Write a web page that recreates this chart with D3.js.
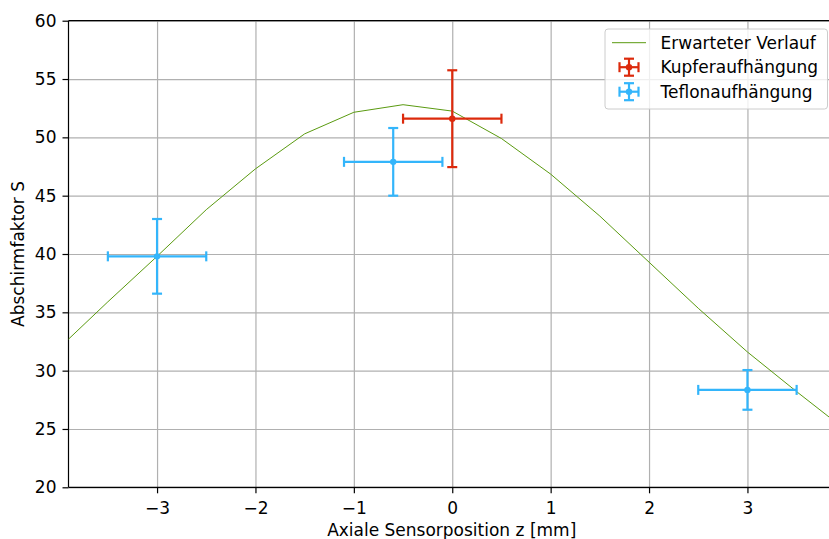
<!DOCTYPE html>
<html>
<head>
<meta charset="utf-8">
<script src="https://cdn.jsdelivr.net/npm/d3@7"></script>
<style>
  body { margin: 0; background: #fff; }
  svg { display: block; font-family: "DejaVu Sans", sans-serif; }
  .grid line { stroke: #b0b0b0; stroke-width: 1.2; }
  .grid path { display: none; }
</style>
</head>
<body>
<svg id="chart"></svg>
<script>
// expected curve (Erwarteter Verlauf)
const curveZ = [-4, -3.5, -3, -2.5, -2, -1.5, -1, -0.5, 0, 0.5, 1, 1.5, 2, 2.5, 3, 3.5, 4];
const curveS = [31.9, 35.9, 39.8, 43.8, 47.3, 50.3, 52.15, 52.8, 52.25, 49.9, 46.85, 43.25, 39.3, 35.35, 31.6, 28.2, 24.9];

// Kupferaufhängung
const cuZ = [0];
const cuS = [51.6];
const cuXerr = [0.5];
const cuYerr = [4.15];

// Teflonaufhängung
const tfZ = [-3, -0.6, 3];
const tfS = [39.8, 47.9, 28.35];
const tfXerr = [0.5, 0.5, 0.5];
const tfYerr = [3.2, 2.9, 1.7];

const xTicks = [-3, -2, -1, 0, 1, 2, 3];
const yTicks = [20, 25, 30, 35, 40, 45, 50, 55, 60];

const W = 829, H = 539;
const FS = 17;
const margin = { top: 20.7, right: -7, bottom: 51.7, left: 68.5 };
const width = W - margin.left - margin.right,
      height = H - margin.top - margin.bottom;

const svg = d3.select("#chart").attr("width", W).attr("height", H);

svg.append("defs").append("clipPath").attr("id", "clip")
  .append("rect").attr("width", width).attr("height", height);

const g = svg.append("g")
  .attr("transform", `translate(${margin.left}, ${margin.top})`);

const x = d3.scaleLinear().domain([-3.9, 3.9]).range([0, width]);
const y = d3.scaleLinear().domain([20, 60]).range([height, 0]);

const fmt = d => d < 0 ? "\u2212" + Math.abs(d) : String(d);

// grids
g.append("g").attr("class", "grid")
  .attr("transform", `translate(0, ${height})`)
  .call(d3.axisBottom(x).tickValues(xTicks).tickSize(-height).tickFormat(""));
g.append("g").attr("class", "grid")
  .call(d3.axisLeft(y).tickValues(yTicks).tickSize(-width).tickFormat(""));

// axes
const xAxis = g.append("g")
  .attr("transform", `translate(0, ${height})`)
  .call(d3.axisBottom(x).tickValues(xTicks).tickSize(6).tickPadding(9).tickFormat(fmt));
const yAxis = g.append("g")
  .call(d3.axisLeft(y).tickValues(yTicks).tickSize(6).tickPadding(6).tickFormat(d3.format("d")));
[xAxis, yAxis].forEach(a => {
  a.selectAll("text").attr("font-size", FS).attr("font-family", "DejaVu Sans").attr("fill", "#000");
  a.selectAll("line").attr("stroke", "#000").attr("stroke-width", 1.2);
  a.select("path").attr("stroke", "none");
});

// spines
g.append("line").attr("x1", 0).attr("x2", 0).attr("y1", 0).attr("y2", height)
  .attr("stroke", "#000").attr("stroke-width", 1.2);
g.append("line").attr("x1", 0).attr("x2", width).attr("y1", height).attr("y2", height)
  .attr("stroke", "#000").attr("stroke-width", 1.2);
g.append("line").attr("x1", 0).attr("x2", width).attr("y1", 0).attr("y2", 0)
  .attr("stroke", "#000").attr("stroke-width", 1.2);

// expected curve
const curve = curveZ.map((z, i) => ({ z: z, s: curveS[i] }));
const valueLine = d3.line().x(d => x(d.z)).y(d => y(d.s));
g.append("path")
  .datum(curve)
  .attr("clip-path", "url(#clip)")
  .attr("fill", "none")
  .attr("stroke", "#5a9a10")
  .attr("stroke-width", 1)
  .attr("d", valueLine);

// error bars
function errorBars(zs, ss, xe, ye, color) {
  const cap = 5;
  const grp = g.append("g").attr("stroke", color).attr("stroke-width", 2.2);
  zs.forEach((z, i) => {
    const cx = x(z), cy = y(ss[i]);
    const x0 = x(z - xe[i]), x1 = x(z + xe[i]);
    const y0 = y(ss[i] - ye[i]), y1 = y(ss[i] + ye[i]);
    grp.append("line").attr("x1", x0).attr("x2", x1).attr("y1", cy).attr("y2", cy);
    grp.append("line").attr("x1", cx).attr("x2", cx).attr("y1", y0).attr("y2", y1);
    grp.append("line").attr("x1", x0).attr("x2", x0).attr("y1", cy - cap).attr("y2", cy + cap);
    grp.append("line").attr("x1", x1).attr("x2", x1).attr("y1", cy - cap).attr("y2", cy + cap);
    grp.append("line").attr("x1", cx - cap).attr("x2", cx + cap).attr("y1", y0).attr("y2", y0);
    grp.append("line").attr("x1", cx - cap).attr("x2", cx + cap).attr("y1", y1).attr("y2", y1);
    grp.append("circle").attr("cx", cx).attr("cy", cy).attr("r", 3.2)
      .attr("fill", color).attr("stroke", "none");
  });
}
const red = "#dc2a0c", blue = "#33b5fb";
errorBars(tfZ, tfS, tfXerr, tfYerr, blue);
errorBars(cuZ, cuS, cuXerr, cuYerr, red);

// axis labels
svg.append("text")
  .attr("x", 451.7)
  .attr("y", 536)
  .attr("text-anchor", "middle")
  .attr("font-size", FS)
  .text("Axiale Sensorposition z [mm]");
svg.append("text")
  .attr("transform", `translate(24, ${margin.top + height / 2}) rotate(-90)`)
  .attr("text-anchor", "middle")
  .attr("font-size", FS)
  .text("Abschirmfaktor S");

// legend
const lg = svg.append("g").attr("transform", "translate(605, 29)");
lg.append("rect").attr("width", 222.5).attr("height", 80).attr("rx", 3)
  .attr("fill", "rgba(255,255,255,0.8)").attr("stroke", "#cccccc").attr("stroke-width", 1);
const items = [
  { label: "Erwarteter Verlauf", type: "line", color: "#5a9a10" },
  { label: "Kupferaufhängung", type: "err", color: red },
  { label: "Teflonaufhängung", type: "err", color: blue }
];
items.forEach((it, i) => {
  const cy = 13.7 + i * 24.5;
  if (it.type === "line") {
    lg.append("line").attr("x1", 7).attr("x2", 41).attr("y1", cy).attr("y2", cy)
      .attr("stroke", it.color).attr("stroke-width", 1);
  } else {
    const e = lg.append("g").attr("stroke", it.color).attr("stroke-width", 2.2);
    const cx = 24, hx = 9.5, hy = 8.5;
    e.append("line").attr("x1", cx - hx).attr("x2", cx + hx).attr("y1", cy).attr("y2", cy);
    e.append("line").attr("x1", cx).attr("x2", cx).attr("y1", cy - hy).attr("y2", cy + hy);
    e.append("line").attr("x1", cx - hx).attr("x2", cx - hx).attr("y1", cy - 5).attr("y2", cy + 5);
    e.append("line").attr("x1", cx + hx).attr("x2", cx + hx).attr("y1", cy - 5).attr("y2", cy + 5);
    e.append("line").attr("x1", cx - 5).attr("x2", cx + 5).attr("y1", cy - hy).attr("y2", cy - hy);
    e.append("line").attr("x1", cx - 5).attr("x2", cx + 5).attr("y1", cy + hy).attr("y2", cy + hy);
    e.append("circle").attr("cx", cx).attr("cy", cy).attr("r", 3.2).attr("fill", it.color).attr("stroke", "none");
  }
  lg.append("text").attr("x", 55.5).attr("y", cy + 6)
    .attr("font-size", FS).text(it.label);
});
</script>
</body>
</html>
